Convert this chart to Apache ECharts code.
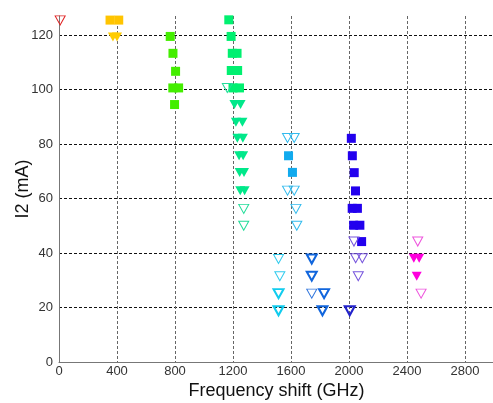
<!DOCTYPE html>
<html>
<head>
<meta charset="utf-8">
<script src="https://cdn.jsdelivr.net/npm/echarts@6/dist/echarts.min.js"></script>
<style>
  html, body { margin: 0; padding: 0; background: #fff; }
  #chart { width: 493px; height: 403px; }
</style>
</head>
<body>
<div id="chart"></div>
<script>
"use strict";
// axis ticks
const xTicks = [0, 400, 800, 1200, 1600, 2000, 2400, 2800];
const yTicks = [0, 20, 40, 60, 80, 100, 120];

// [frequency shift (GHz), I2 (mA)]
const redHollow = [[8, 125.4]];
const yellowSquares = [[352, 125.5], [412, 125.5]];
const yellowTriangles = [[372, 119.3], [400, 119.3]];
const greenSquares = [[767, 119.5], [786, 113.3], [804, 106.7], [785, 100.6], [825, 100.6], [797, 94.5]];
const tealSquares = [[1171, 125.6], [1187, 119.5], [1195, 113.3], [1228, 113.3], [1188, 107], [1232, 107], [1200, 100.6], [1245, 100.6]];
const tealTriangles = [[1210, 94.5], [1252, 94.5], [1220, 88], [1265, 88], [1230, 82.1], [1268, 82.1],
  [1242, 75.7], [1270, 75.7], [1246, 69.6], [1276, 69.6], [1250, 62.9], [1280, 62.9]];
const tealHollow = [[1161, 100.6], [1274, 56.2], [1274, 50]];
const skyHollow = [[1576, 82.2], [1622, 82.2], [1576, 62.9], [1622, 62.9], [1634, 56.2], [1640, 50]];
const skySquares = [[1583, 75.7], [1610, 69.6]];
const cyanHollow = [[1514, 37.8], [1523, 31.5]];
const cyanThick = [[1514, 25.1], [1514, 18.8]];
const blueThick = [[1743, 37.8], [1743, 31.5], [1828, 25.1], [1817, 18.8]];
const blueHollow = [[1743, 25.1]];
const navySquares = [[2016, 82.1], [2023, 75.7], [2036, 69.5], [2045, 62.8], [2022, 56.4], [2058, 56.4],
  [2032, 50.2], [2075, 50.2], [2087, 44.2]];
const navyThick = [[2005, 18.8]];
const purpleHollow = [[2034, 44.2], [2046, 38.1], [2092, 38.1], [2064, 31.5]];
const magentaTriangles = [[2447, 38.1], [2484, 38.1], [2467, 31.5]];
const magentaHollow = [[2474, 44.2], [2497, 25.1]];

const TRANSPARENT = 'rgba(0,0,0,0)';

function squares(data, color) {
  return { type: 'scatter', data: data, symbol: 'rect', symbolSize: 9,
    itemStyle: { color: color, opacity: 1 } };
}

function triangles(data, color, hollow, width) {
  return { type: 'scatter', data: data, symbol: 'triangle', symbolRotate: 180, symbolSize: [10, 9],
    itemStyle: hollow
      ? { color: TRANSPARENT, borderColor: color, borderWidth: width || 1, opacity: 1 }
      : { color: color, opacity: 1 } };
}

const chart = echarts.init(document.getElementById('chart'));

const option = {
  backgroundColor: '#fff',
  animation: false,
  textStyle: { fontFamily: 'Liberation Sans' },
  grid: { left: 59, right: -1, top: 16, bottom: 41, containLabel: false, outerBoundsMode: 'none' },
  xAxis: {
    type: 'value', min: xTicks[0], max: 3000, interval: 400,
    name: 'Frequency shift (GHz)', nameLocation: 'middle', nameGap: 20, nameMoveOverlap: false,
    nameTextStyle: { fontSize: 18, color: '#111' },
    axisLine: { show: true, lineStyle: { color: '#777', width: 1 } },
    axisTick: { show: false },
    axisLabel: { fontSize: 13, color: '#333', margin: 3, showMaxLabel: false, formatter: v => String(v) },
    splitLine: { show: true, showMinLine: false, showMaxLine: false,
      lineStyle: { color: '#666', type: [3, 2], width: 1 } }
  },
  yAxis: {
    type: 'value', min: yTicks[0], max: 127, interval: 20,
    name: 'I2 (mA)', nameLocation: 'middle', nameGap: 27, nameMoveOverlap: false,
    nameTextStyle: { fontSize: 18, color: '#111' },
    axisLine: { show: true, lineStyle: { color: '#777', width: 1 } },
    axisTick: { show: false },
    axisLabel: { fontSize: 13, color: '#333', margin: 6, showMaxLabel: false, formatter: v => String(v) },
    splitLine: { show: true, showMinLine: false, showMaxLine: false,
      lineStyle: { color: '#111', type: [3, 2], width: 1 } }
  },
  series: [
    triangles(redHollow, '#e02020', true),
    squares(yellowSquares, '#ffc400'),
    triangles(yellowTriangles, '#ffcc00'),
    squares(greenSquares, '#44ee00'),
    squares(tealSquares, '#00f070'),
    triangles(tealTriangles, '#00e88a'),
    triangles(tealHollow, '#22dd99', true),
    triangles(skyHollow, '#33bbee', true),
    squares(skySquares, '#11aaee'),
    triangles(cyanHollow, '#33ccee', true),
    triangles(cyanThick, '#11ccee', true, 2),
    triangles(blueThick, '#1166dd', true, 2),
    triangles(blueHollow, '#3377dd', true),
    squares(navySquares, '#2200ee'),
    triangles(navyThick, '#2222cc', true, 2),
    triangles(purpleHollow, '#7755dd', true),
    triangles(magentaTriangles, '#ff00dd'),
    triangles(magentaHollow, '#ee55dd', true)
  ]
};

chart.setOption(option);
</script>
</body>
</html>
